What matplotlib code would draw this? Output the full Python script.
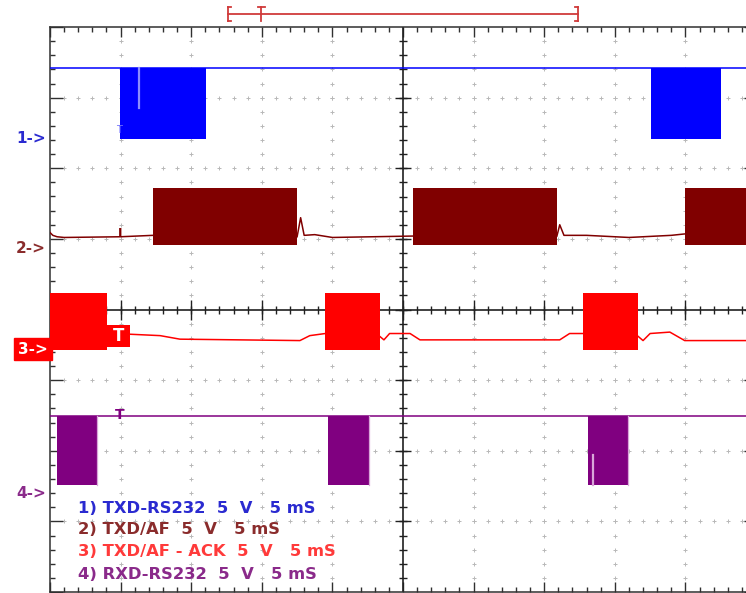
import matplotlib
matplotlib.use("Agg")
import matplotlib.pyplot as plt
import numpy as np

# ---------------- data (x in divisions of 5 ms, y in divisions of 5 V) ----------------
ch1_high, ch1_low = 7.42, 6.42
ch1_bursts = [(0.99, 2.21), (8.51, 9.50)]
ch1_glitch_x, ch1_glitch_y = [1.26, 1.26], [7.42, 6.86]

ch2_high, ch2_low = 5.72, 4.91
ch2_bursts = [(1.46, 3.50), (5.14, 7.18), (8.99, 10.0)]
ch2_idle_x = [0.0, 0.04, 0.10, 0.20, 1.00, 1.46, None,
              3.50, 3.55, 3.60, 3.75, 4.00, 5.14, None,
              7.18, 7.22, 7.28, 7.60, 8.20, 8.80, 8.99]
ch2_idle_y = [5.09, 5.05, 5.03, 5.02, 5.03, 5.05, None,
              5.03, 5.30, 5.05, 5.06, 5.02, 5.04, None,
              5.04, 5.20, 5.05, 5.05, 5.02, 5.05, 5.07]

ch3_high, ch3_low = 4.24, 3.43
ch3_bursts = [(0.0, 0.81), (3.90, 4.67), (7.55, 8.33)]
ch3_idle_x = [1.13, 1.56, 1.84, 3.54, 3.68, 3.90, None,
              4.67, 4.73, 4.81, 5.10, 5.24, 7.22, 7.36, 7.55, None,
              8.33, 8.40, 8.50, 8.78, 8.99, 10.0]
ch3_idle_y = [3.65, 3.63, 3.58, 3.56, 3.63, 3.66, None,
              3.62, 3.57, 3.66, 3.66, 3.57, 3.57, 3.66, 3.66, None,
              3.62, 3.56, 3.66, 3.68, 3.56, 3.56]

ch4_high, ch4_low = 2.49, 1.52
ch4_bursts = [(0.10, 0.67), (3.94, 4.52), (7.62, 8.19)]
ch4_glitch_x, ch4_glitch_y = [7.69, 7.69], [1.52, 1.94]

trigger_pos = 0.99
trig_bar_start, trig_bar_t, trig_bar_end = 2.52, 2.99, 7.48

ground_labels = ["1->", "2->", "3->", "4->"]
ground_levels = [6.42, 4.87, 3.44, 1.40]
legend_lines = ["1) TXD-RS232  5  V   5 mS",
                "2) TXD/AF  5  V   5 mS",
                "3) TXD/AF - ACK  5  V   5 mS",
                "4) RXD-RS232  5  V   5 mS"]

c1, c2, c3, c4 = "#0000ff", "#800000", "#ff0000", "#800080"
text_colors = ["#2a2ad0", "#8a2c2c", "#ff3a3a", "#8a2a8a"]

# ---------------- figure ----------------
W, H = 746, 593
fig = plt.figure(figsize=(W / 100, H / 100), dpi=100)
ax = fig.add_axes([50 / W, 1 / H, 706 / W, 565 / H])
ax.set_xlim(0, 10)
ax.set_ylim(0, 8)

for s in ax.spines.values():
    s.set_color("#303030")
    s.set_linewidth(1.1)

ax.set_xticks(np.arange(0, 11, 1))
ax.set_xticks(np.arange(0, 10.01, 0.2), minor=True)
ax.set_yticks(np.arange(0, 9, 1))
ax.set_yticks(np.arange(0, 8.01, 0.2), minor=True)
ax.tick_params(which="both", direction="in", top=True, bottom=True, left=True,
               right=True, labelbottom=False, labelleft=False, color="#303030")
ax.tick_params(axis="x", which="major", length=7.5, width=1.0)
ax.tick_params(axis="x", which="minor", length=3.5, width=1.0)
ax.tick_params(axis="y", which="major", length=9, width=1.0)
ax.tick_params(axis="y", which="minor", length=3.5, width=1.0)

# dotted graticule
minor_x = np.round(np.arange(0.2, 10.0, 0.2), 2)
minor_y = np.round(np.arange(0.2, 8.0, 0.2), 2)
for gy in [1, 2, 3, 5, 6, 7]:
    ax.plot(minor_x, np.full_like(minor_x, gy), ls="none", marker="+",
            ms=3.2, mew=0.7, color="#b8b8b8", zorder=1)
for gx in [1, 2, 3, 4, 6, 7, 8, 9]:
    ax.plot(np.full_like(minor_y, gx), minor_y, ls="none", marker="+",
            ms=3.2, mew=0.7, color="#b8b8b8", zorder=1)

# centre axes with ticks
ax.axhline(4, color="#202020", lw=1.2, zorder=2)
ax.axvline(5, color="#202020", lw=1.2, zorder=2)
ax.plot(minor_x, np.full_like(minor_x, 4), ls="none", marker="|", ms=6,
        mew=1.0, color="#202020", zorder=2)
ax.plot(np.arange(1, 10), np.full(9, 4), ls="none", marker="|", ms=14,
        mew=1.0, color="#202020", zorder=2)
ax.plot(np.full_like(minor_y, 5), minor_y, ls="none", marker="_", ms=6,
        mew=1.0, color="#202020", zorder=2)
ax.plot(np.full(7, 5), np.arange(1, 8), ls="none", marker="_", ms=12,
        mew=1.0, color="#202020", zorder=2)


def bursts(blist, lo, hi, color):
    for s, e in blist:
        ax.fill_between([s, e], [lo, lo], [hi, hi], color=color, lw=0, zorder=4)


def seg(xs, ys):
    xx = [np.nan if v is None else v for v in xs]
    yy = [np.nan if v is None else v for v in ys]
    return xx, yy


# channel 1
ax.plot([0, 10], [ch1_high, ch1_high], color=c1, lw=1.1, zorder=3)
bursts(ch1_bursts, ch1_low, ch1_high, c1)
ax.plot(ch1_glitch_x, ch1_glitch_y, color="#8c8cff", lw=1.6, zorder=5)
ax.text(trigger_pos - 0.02, ch1_low + 0.12, "T", color="#7070ff", fontsize=7,
        ha="center", va="center", zorder=5)

# channel 2
x2, y2 = seg(ch2_idle_x, ch2_idle_y)
ax.plot(x2, y2, color=c2, lw=1.1, zorder=3)
bursts(ch2_bursts, ch2_low, ch2_high, c2)
ax.text(trigger_pos, 5.08, "I", color=c2, fontsize=9, fontweight="bold",
        ha="center", va="center", zorder=5)

# channel 3
x3, y3 = seg(ch3_idle_x, ch3_idle_y)
ax.plot(x3, y3, color=c3, lw=1.1, zorder=3)
bursts(ch3_bursts, ch3_low, ch3_high, c3)
ax.fill_between([0.81, 1.13], [3.47, 3.47], [3.78, 3.78], color=c3, lw=0, zorder=4)
ax.text(0.97, 3.62, "T", color="white", fontsize=12, fontweight="bold",
        ha="center", va="center", zorder=5)

# channel 4
ax.plot([0, 10], [ch4_high, ch4_high], color=c4, lw=1.1, zorder=3)
bursts(ch4_bursts, ch4_low, ch4_high, c4)
for s, e in ch4_bursts:
    ax.plot([e, e], [ch4_low, ch4_high], color="#d9a6d9", lw=0.9, zorder=4)
ax.plot(ch4_glitch_x, ch4_glitch_y, color="#d9a6d9", lw=1.6, zorder=5)
ax.text(trigger_pos, ch4_high + 0.02, "T", color=c4, fontsize=10, fontweight="bold",
        ha="center", va="center", zorder=5)

# ground markers on the left
for i, (lab, lev) in enumerate(zip(ground_labels, ground_levels)):
    if i == 2:
        ax.text(-0.03, lev, lab, color="white", fontsize=11, fontweight="bold",
                ha="right", va="center", clip_on=False, zorder=6,
                bbox=dict(boxstyle="square,pad=0.25", fc=c3, ec=c3))
    else:
        ax.text(-0.06, lev, lab, color=text_colors[i], fontsize=11,
                fontweight="bold", ha="right", va="center", clip_on=False)

# trigger bar at top
ty = 8.19
tb = dict(color="#d03a3a", lw=1.3, clip_on=False, zorder=6)
ax.plot([trig_bar_start, trig_bar_end], [ty, ty], **tb)
ax.plot([trig_bar_start, trig_bar_start], [ty - 0.1, ty + 0.1], **tb)
ax.plot([trig_bar_start, trig_bar_start + 0.05], [ty + 0.1, ty + 0.1], **tb)
ax.plot([trig_bar_start, trig_bar_start + 0.05], [ty - 0.1, ty - 0.1], **tb)
ax.plot([trig_bar_t, trig_bar_t], [ty - 0.1, ty + 0.1], **tb)
ax.plot([trig_bar_t - 0.05, trig_bar_t + 0.05], [ty + 0.1, ty + 0.1], **tb)
ax.plot([trig_bar_end, trig_bar_end], [ty - 0.1, ty + 0.1], **tb)
ax.plot([trig_bar_end - 0.05, trig_bar_end], [ty + 0.1, ty + 0.1], **tb)
ax.plot([trig_bar_end - 0.05, trig_bar_end], [ty - 0.1, ty - 0.1], **tb)

# legend text
legend_y = [1.18, 0.89, 0.58, 0.25]
for txt, yy, col in zip(legend_lines, legend_y, text_colors):
    ax.text(0.40, yy, txt, color=col, fontsize=11.8, fontweight="bold",
            ha="left", va="center", zorder=6)

fig.savefig("out.png", dpi=100)
